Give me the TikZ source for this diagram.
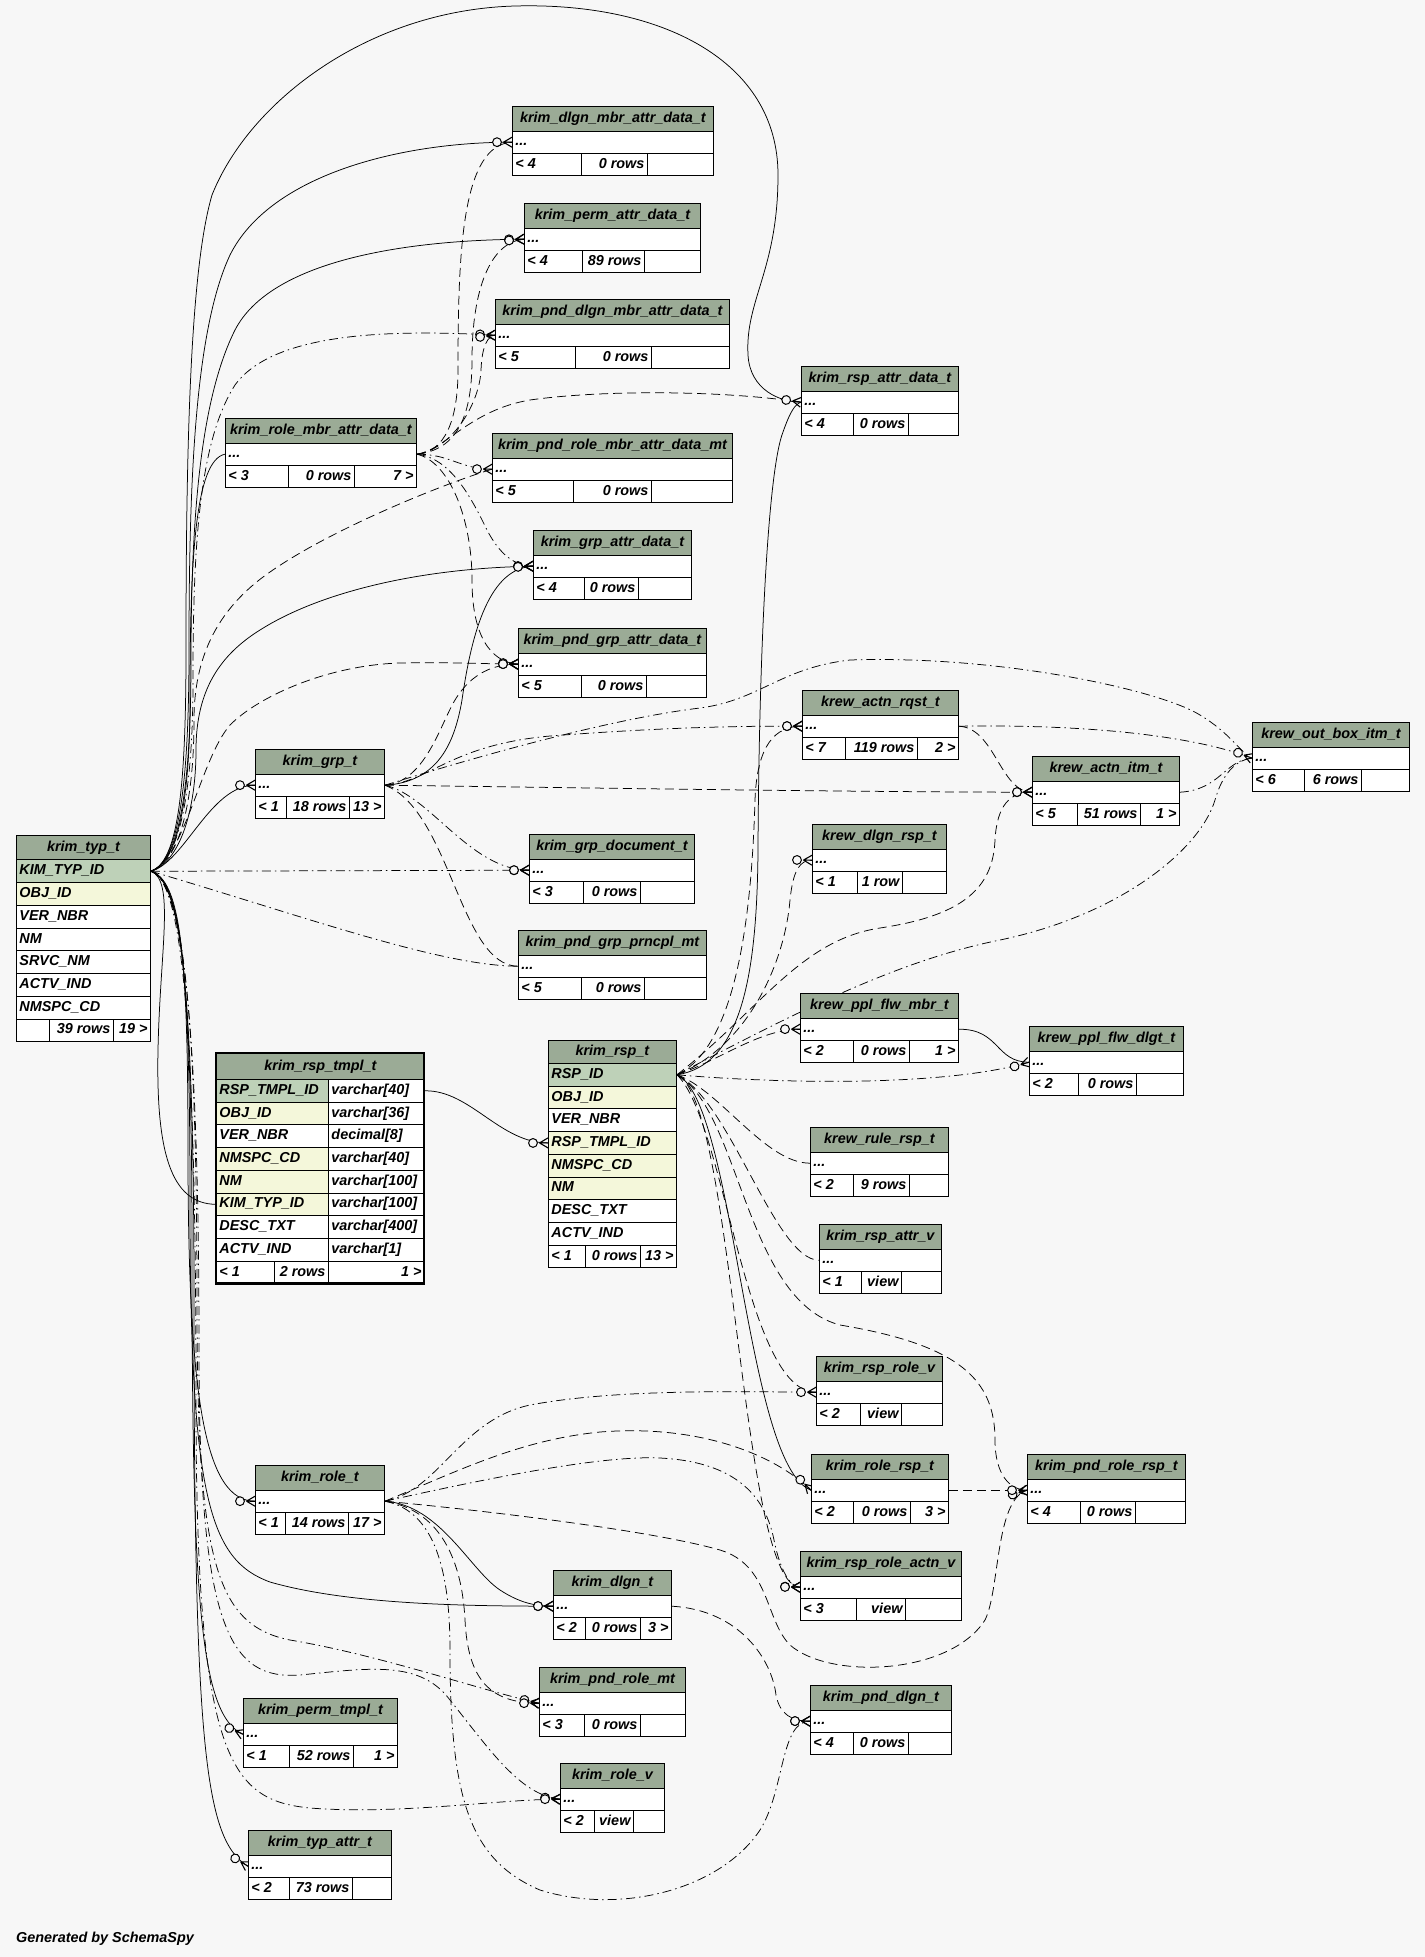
\documentclass[tikz,border=0pt]{standalone}
\usepackage{fontspec}
\setmainfont{Liberation Sans}
\usetikzlibrary{decorations.markings}
\definecolor{bgc}{HTML}{F7F7F7}
\definecolor{hdrc}{HTML}{9BAB96}
\definecolor{pkc}{HTML}{BED1B8}
\definecolor{idxc}{HTML}{F4F7DA}
\pgfdeclarelayer{bglayer}
\pgfdeclarelayer{edgelayer}
\pgfsetlayers{bglayer,edgelayer,main}
\newcommand\tabfont{\fontsize{14.4bp}{17bp}\selectfont\bfseries\itshape}
\tikzset{
  cellbase/.style={draw=black, line width=0.9bp, inner xsep=3bp, inner ysep=0pt,
    text height=10.6bp, text depth=3.4bp, font=\tabfont, anchor=north west},
  rel/.style={line width=0.75bp, postaction={decorate, decoration={markings,
    mark=at position 1 with {\draw[solid, line width=1bp, fill=bgc] (-15bp,0) circle (4.4bp);
      \draw[solid, line width=1.1bp] (-8.5bp,0) -- (0,5bp) (-8.5bp,0) -- (0,-5bp) (-8.5bp,0) -- (0,0);}}}},
  fkrel/.style={rel},
  imprel/.style={rel, dash pattern=on 9bp off 5bp},
  impdrel/.style={rel, dash pattern=on 9bp off 4bp on 1.5bp off 4bp},
}
% cell: name, x1, y1, x2, y2, fill, align (l/r/c), text
\newcommand\tcell[8]{%
  \pgfmathsetmacro\tcw{#4-(#2)}%
  \pgfmathsetmacro\tctw{#4-(#2)-6}%
  \pgfmathsetmacro\tch{#5-(#3)}%
  \node[cellbase, fill=#6, minimum width=\tcw bp, minimum height=\tch bp] (#1) at (#2,#3) {\makebox[\tctw bp][#7]{#8}};%
}
\newcommand\ctab[8]{%
  \pgfmathsetmacro\cya{#3+24.5}%
  \pgfmathsetmacro\cyb{#3+47}%
  \pgfmathsetmacro\cyc{#3+69}%
  \tcell{#1-h}{#2}{#3}{#4}{\cya}{hdrc}{c}{#5}%
  \tcell{#1}{#2}{\cya}{#4}{\cyb}{white}{l}{...}%
  \def\cxa{#2}\def\cxb{#6}\def\cxc{#7}\def\cxd{#4}%
  \ctabfoot{#1}#8%
}
\newcommand\ctabfoot[4]{%
  \tcell{#1-f1}{\cxa}{\cyb}{\cxb}{\cyc}{white}{l}{#2}%
  \tcell{#1-f2}{\cxb}{\cyb}{\cxc}{\cyc}{white}{r}{#3}%
  \tcell{#1-f3}{\cxc}{\cyb}{\cxd}{\cyc}{white}{r}{#4}%
}
\begin{document}
\begin{tikzpicture}[x=1bp,y=-1bp]
\useasboundingbox (0,0) rectangle (1425,1957);
\begin{pgfonlayer}{bglayer}
\fill[bgc] (0,0) rectangle (1425,1957);
\end{pgfonlayer}

% ---------- krim_typ_t ----------
\tcell{typ-h}{16}{835}{150}{859.3}{hdrc}{c}{krim\_typ\_t}
\tcell{typ-id}{16}{859.3}{150}{882.3}{pkc}{l}{KIM\_TYP\_ID}
\tcell{typ-obj}{16}{882.3}{150}{905}{idxc}{l}{OBJ\_ID}
\tcell{typ-ver}{16}{905}{150}{927.7}{white}{l}{VER\_NBR}
\tcell{typ-nm}{16}{927.7}{150}{950.4}{white}{l}{NM}
\tcell{typ-srvc}{16}{950.4}{150}{973.1}{white}{l}{SRVC\_NM}
\tcell{typ-actv}{16}{973.1}{150}{995.8}{white}{l}{ACTV\_IND}
\tcell{typ-nmspc}{16}{995.8}{150}{1018.5}{white}{l}{NMSPC\_CD}
\tcell{typ-f1}{16}{1018.5}{49}{1041.2}{white}{l}{}
\tcell{typ-f2}{49}{1018.5}{113}{1041.2}{white}{r}{39 rows}
\tcell{typ-f3}{113}{1018.5}{150}{1041.2}{white}{r}{19 >}

% ---------- krim_rsp_tmpl_t ----------
\tcell{rt-h}{216}{1053}{424}{1079}{hdrc}{c}{krim\_rsp\_tmpl\_t}
\tcell{rt-id}{216}{1079}{328}{1101.7}{pkc}{l}{RSP\_TMPL\_ID}
\tcell{rt-idt}{328}{1079}{424}{1101.7}{white}{l}{varchar[40]}
\tcell{rt-obj}{216}{1101.7}{328}{1124.4}{idxc}{l}{OBJ\_ID}
\tcell{rt-objt}{328}{1101.7}{424}{1124.4}{white}{l}{varchar[36]}
\tcell{rt-ver}{216}{1124.4}{328}{1147.1}{white}{l}{VER\_NBR}
\tcell{rt-vert}{328}{1124.4}{424}{1147.1}{white}{l}{decimal[8]}
\tcell{rt-nmspc}{216}{1147.1}{328}{1169.8}{idxc}{l}{NMSPC\_CD}
\tcell{rt-nmspct}{328}{1147.1}{424}{1169.8}{white}{l}{varchar[40]}
\tcell{rt-nm}{216}{1169.8}{328}{1192.5}{idxc}{l}{NM}
\tcell{rt-nmt}{328}{1169.8}{424}{1192.5}{white}{l}{varchar[100]}
\tcell{rt-kim}{216}{1192.5}{328}{1215.2}{idxc}{l}{KIM\_TYP\_ID}
\tcell{rt-kimt}{328}{1192.5}{424}{1215.2}{white}{l}{varchar[100]}
\tcell{rt-desc}{216}{1215.2}{328}{1237.9}{white}{l}{DESC\_TXT}
\tcell{rt-desct}{328}{1215.2}{424}{1237.9}{white}{l}{varchar[400]}
\tcell{rt-actv}{216}{1237.9}{328}{1260.6}{white}{l}{ACTV\_IND}
\tcell{rt-actvt}{328}{1237.9}{424}{1260.6}{white}{l}{varchar[1]}
\tcell{rt-f1}{216}{1260.6}{274}{1283.3}{white}{l}{< 1}
\tcell{rt-f2}{274}{1260.6}{328}{1283.3}{white}{r}{2 rows}
\tcell{rt-f3}{328}{1260.6}{424}{1283.3}{white}{r}{1 >}
\draw[line width=2.8bp] (216,1053) rectangle (424,1283.3);

% ---------- krim_rsp_t ----------
\tcell{rsp-h}{548}{1039.5}{676}{1063}{hdrc}{c}{krim\_rsp\_t}
\tcell{rsp-id}{548}{1063}{676}{1085.7}{pkc}{l}{RSP\_ID}
\tcell{rsp-obj}{548}{1085.7}{676}{1108.4}{idxc}{l}{OBJ\_ID}
\tcell{rsp-ver}{548}{1108.4}{676}{1131.1}{white}{l}{VER\_NBR}
\tcell{rsp-tmpl}{548}{1131.1}{676}{1153.8}{idxc}{l}{RSP\_TMPL\_ID}
\tcell{rsp-nmspc}{548}{1153.8}{676}{1176.5}{idxc}{l}{NMSPC\_CD}
\tcell{rsp-nm}{548}{1176.5}{676}{1199.2}{idxc}{l}{NM}
\tcell{rsp-desc}{548}{1199.2}{676}{1221.9}{white}{l}{DESC\_TXT}
\tcell{rsp-actv}{548}{1221.9}{676}{1244.6}{white}{l}{ACTV\_IND}
\tcell{rsp-f1}{548}{1244.6}{585}{1267.3}{white}{l}{< 1}
\tcell{rsp-f2}{585}{1244.6}{640}{1267.3}{white}{r}{0 rows}
\tcell{rsp-f3}{640}{1244.6}{676}{1267.3}{white}{r}{13 >}

% ---------- collapsed tables ----------
\ctab{dlgnmbr}{512}{106}{713}{krim\_dlgn\_mbr\_attr\_data\_t}{581}{647}{{< 4}{0 rows}{}}
\ctab{permattr}{524}{203}{700}{krim\_perm\_attr\_data\_t}{582}{644}{{< 4}{89 rows}{}}
\ctab{pnddlgnmbr}{495}{299}{729}{krim\_pnd\_dlgn\_mbr\_attr\_data\_t}{575}{651}{{< 5}{0 rows}{}}
\ctab{rspattrdata}{801}{366}{958}{krim\_rsp\_attr\_data\_t}{853}{908}{{< 4}{0 rows}{}}
\ctab{rmad}{225}{418}{416}{krim\_role\_mbr\_attr\_data\_t}{288}{354}{{< 3}{0 rows}{7 >}}
\ctab{pndrolembr}{492}{433}{732}{krim\_pnd\_role\_mbr\_attr\_data\_mt}{573}{651}{{< 5}{0 rows}{}}
\ctab{grpattr}{533}{530}{691}{krim\_grp\_attr\_data\_t}{584}{638}{{< 4}{0 rows}{}}
\ctab{pndgrpattr}{518}{628}{706}{krim\_pnd\_grp\_attr\_data\_t}{581}{646}{{< 5}{0 rows}{}}
\ctab{actnrqst}{802}{690}{958}{krew\_actn\_rqst\_t}{845}{917}{{< 7}{119 rows}{2 >}}
\ctab{outbox}{1252}{722}{1409}{krew\_out\_box\_itm\_t}{1304}{1361}{{< 6}{6 rows}{}}
\ctab{actnitm}{1032}{756}{1179}{krew\_actn\_itm\_t}{1077}{1140}{{< 5}{51 rows}{1 >}}
\ctab{grp}{255}{749}{384}{krim\_grp\_t}{286}{349}{{< 1}{18 rows}{13 >}}
\ctab{dlgnrsp}{812}{824}{946}{krew\_dlgn\_rsp\_t}{857}{902}{{< 1}{1 row}{}}
\ctab{grpdoc}{529}{834}{694}{krim\_grp\_document\_t}{583}{640}{{< 3}{0 rows}{}}
\ctab{pndgrpprncpl}{518}{930}{706}{krim\_pnd\_grp\_prncpl\_mt}{581}{644}{{< 5}{0 rows}{}}
\ctab{pplflwmbr}{800}{993}{958}{krew\_ppl\_flw\_mbr\_t}{853}{909}{{< 2}{0 rows}{1 >}}
\ctab{pplflwdlgt}{1029}{1026}{1183}{krew\_ppl\_flw\_dlgt\_t}{1078}{1136}{{< 2}{0 rows}{}}
\ctab{rulersp}{810}{1127}{948}{krew\_rule\_rsp\_t}{853}{909}{{< 2}{9 rows}{}}
\ctab{rspattrv}{819}{1224}{941}{krim\_rsp\_attr\_v}{861}{901}{{< 1}{view}{}}
\ctab{rsprolev}{816}{1356}{942}{krim\_rsp\_role\_v}{860}{901}{{< 2}{view}{}}
\ctab{rolersp}{811}{1454}{948}{krim\_role\_rsp\_t}{853}{910}{{< 2}{0 rows}{3 >}}
\ctab{pndrolersp}{1027}{1454}{1185}{krim\_pnd\_role\_rsp\_t}{1080}{1135}{{< 4}{0 rows}{}}
\ctab{role}{255}{1465}{384}{krim\_role\_t}{285}{348}{{< 1}{14 rows}{17 >}}
\ctab{rsproleactnv}{800}{1551}{961}{krim\_rsp\_role\_actn\_v}{856}{905}{{< 3}{view}{}}
\ctab{dlgn}{553}{1570}{671}{krim\_dlgn\_t}{585}{640}{{< 2}{0 rows}{3 >}}
\ctab{pndrolemt}{539}{1667}{685}{krim\_pnd\_role\_mt}{584}{640}{{< 3}{0 rows}{}}
\ctab{pnddlgn}{810}{1685}{951}{krim\_pnd\_dlgn\_t}{853}{908}{{< 4}{0 rows}{}}
\ctab{permtmpl}{243}{1698}{397}{krim\_perm\_tmpl\_t}{289}{353}{{< 1}{52 rows}{1 >}}
\ctab{rolev}{560}{1763}{664}{krim\_role\_v}{594}{633}{{< 2}{view}{}}
\ctab{typattr}{248}{1830}{391}{krim\_typ\_attr\_t}{289}{352}{{< 2}{73 rows}{}}

\node[font=\tabfont, anchor=base west, inner sep=0pt] (gen) at (16,1942) {Generated by SchemaSpy};

% ---------- connectors ----------
\begin{pgfonlayer}{edgelayer}
% from krim_typ_t
\draw[fkrel] (typ-id.east) .. controls (178,862) and (186,790) .. (186,650) .. controls (186,450) and (190,270) .. (212,195) .. controls (250,100) and (370,10) .. (515,6) .. controls (660,2) and (778,60) .. (778,175) .. controls (778,270) and (745,300) .. (748,355) .. controls (750,390) and (780,402) .. (rspattrdata.west);
\draw[fkrel] (typ-id.east) .. controls (178,862) and (189,790) .. (189,650) .. controls (189,480) and (195,330) .. (230,255) .. controls (270,175) and (400,142) .. (dlgnmbr.west);
\draw[fkrel] (typ-id.east) .. controls (178,862) and (191,795) .. (191,660) .. controls (191,520) and (200,400) .. (235,330) .. controls (270,262) and (400,240) .. (permattr.west);
\draw[impdrel] (typ-id.east) .. controls (178,862) and (193,800) .. (193,680) .. controls (193,540) and (200,440) .. (235,385) .. controls (275,330) and (400,330) .. (pnddlgnmbr.west);
\draw[fkrel] (typ-id.east) .. controls (178,862) and (190,800) .. (190,700) .. controls (190,560) and (195,460) .. (rmad.west);
\draw[imprel] (typ-id.east) .. controls (180,862) and (194,800) .. (194,720) .. controls (194,660) and (215,610) .. (270,572) .. controls (330,530) and (440,485) .. (pndrolembr.west);
\draw[fkrel] (typ-id.east) .. controls (180,862) and (196,810) .. (196,750) .. controls (196,690) and (220,655) .. (260,630) .. controls (320,592) and (420,568) .. (grpattr.west);
\draw[imprel] (typ-id.east) .. controls (185,858) and (200,760) .. (230,725) .. controls (260,695) and (330,665) .. (400,663) .. controls (450,662) and (490,664) .. (pndgrpattr.west);
\draw[fkrel] (typ-id.east) .. controls (185,862) and (210,785) .. (grp.west);
\draw[impdrel] (typ-id.east) -- (grpdoc.west);
\draw[impdrel] (typ-id.east) .. controls (300,915) and (440,966) .. (pndgrpprncpl.west);
\draw[fkrel] (typ-id.east) .. controls (175,880) and (160,950) .. (158,1050) .. controls (156,1150) and (170,1204) .. (rt-kim.west);
\draw[fkrel] (typ-id.east) .. controls (180,880) and (188,950) .. (188,1150) .. controls (188,1400) and (205,1501) .. (role.west);
\draw[fkrel] (typ-id.east) .. controls (180,880) and (190,960) .. (190,1200) .. controls (190,1500) and (210,1560) .. (270,1582) .. controls (350,1605) and (470,1606) .. (dlgn.west);
\draw[fkrel] (typ-id.east) .. controls (180,880) and (192,970) .. (192,1250) .. controls (192,1600) and (200,1715) .. (permtmpl.west);
\draw[fkrel] (typ-id.east) .. controls (180,880) and (194,980) .. (194,1300) .. controls (194,1750) and (205,1840) .. (typattr.west);
\draw[impdrel] (typ-id.east) .. controls (180,880) and (197,990) .. (197,1300) .. controls (197,1560) and (215,1625) .. (290,1640) .. controls (380,1655) and (480,1690) .. (pndrolemt.west);
\draw[impdrel] (typ-id.east) .. controls (180,880) and (199,1000) .. (199,1350) .. controls (199,1630) and (230,1680) .. (300,1675) .. controls (370,1668) and (420,1660) .. (450,1700) .. controls (490,1750) and (520,1795) .. (rolev.west);
\draw[impdrel] (typ-id.east) .. controls (180,880) and (196,1000) .. (196,1400) .. controls (196,1760) and (230,1800) .. (310,1808) .. controls (400,1815) and (500,1799) .. (rolev.west);
% from krim_role_mbr_attr_data_t
\draw[imprel] (rmad.east) .. controls (445,452) and (458,420) .. (458,370) .. controls (458,250) and (462,145) .. (dlgnmbr.west);
\draw[imprel] (rmad.east) .. controls (455,450) and (472,420) .. (472,360) .. controls (472,290) and (490,242) .. (permattr.west);
\draw[imprel] (rmad.east) .. controls (455,448) and (480,400) .. (481,370) .. controls (482,345) and (488,336) .. (pnddlgnmbr.west);
\draw[imprel] (rmad.east) .. controls (445,450) and (470,410) .. (530,400) .. controls (600,390) and (720,390) .. (rspattrdata.west);
\draw[impdrel] (rmad.east) .. controls (450,454) and (460,469) .. (pndrolembr.west);
\draw[impdrel] (rmad.east) .. controls (450,458) and (470,495) .. (487,530) .. controls (500,555) and (515,566) .. (grpattr.west);
\draw[imprel] (rmad.east) .. controls (450,462) and (472,520) .. (472,580) .. controls (472,635) and (490,662) .. (pndgrpattr.west);
% from krim_grp_t
\draw[fkrel] (grp.east) .. controls (440,782) and (455,740) .. (462,700) .. controls (472,630) and (490,568) .. (grpattr.west);
\draw[imprel] (grp.east) .. controls (425,782) and (440,725) .. (455,700) .. controls (472,672) and (495,664) .. (pndgrpattr.west);
\draw[impdrel] (grp.east) .. controls (430,795) and (470,870) .. (grpdoc.west);
\draw[imprel] (grp.east) .. controls (450,810) and (460,966) .. (pndgrpprncpl.west);
\draw[impdrel] (grp.east) .. controls (430,782) and (450,745) .. (550,736) .. controls (680,726) and (760,726) .. (actnrqst.west);
\draw[imprel] (grp.east) .. controls (600,788) and (850,792) .. (actnitm.west);
\draw[impdrel] (grp.east) .. controls (450,765) and (600,720) .. (700,708) .. controls (760,700) and (780,668) .. (850,660) .. controls (1000,655) and (1160,690) .. (1200,715) .. controls (1230,733) and (1240,752) .. (outbox.west);
% from krim_rsp_t
\draw[fkrel] (rsp-id.east) .. controls (740,1065) and (757,980) .. (758,850) .. controls (759,650) and (768,470) .. (783,432) .. controls (790,412) and (795,404) .. (rspattrdata.west);
\draw[imprel] (rsp-id.east) .. controls (740,1045) and (752,900) .. (755,800) .. controls (757,745) and (775,726) .. (actnrqst.west);
\draw[imprel] (rsp-id.east) .. controls (750,1045) and (785,960) .. (790,900) .. controls (793,870) and (800,860) .. (dlgnrsp.west);
\draw[imprel] (rsp-id.east) .. controls (760,1010) and (800,940) .. (880,928) .. controls (960,916) and (993,890) .. (995,840) .. controls (997,805) and (1010,792) .. (actnitm.west);
\draw[impdrel] (rsp-id.east) .. controls (800,1010) and (900,960) .. (1000,940) .. controls (1120,915) and (1200,850) .. (1215,800) .. controls (1222,775) and (1235,760) .. (outbox.west);
\draw[imprel] (rsp-id.east) .. controls (720,1060) and (760,1029) .. (pplflwmbr.west);
\draw[impdrel] (rsp-id.east) .. controls (800,1085) and (950,1085) .. (pplflwdlgt.west);
\draw[imprel] (rsp-id.east) .. controls (720,1090) and (765,1163) .. (rulersp.west);
\draw[imprel] (rsp-id.east) .. controls (730,1100) and (775,1260) .. (rspattrv.west);
\draw[imprel] (rsp-id.east) .. controls (725,1120) and (745,1392) .. (rsprolev.west);
\draw[fkrel] (rsp-id.east) .. controls (735,1100) and (745,1465) .. (rolersp.west);
\draw[imprel] (rsp-id.east) .. controls (740,1110) and (745,1300) .. (840,1325) .. controls (960,1345) and (995,1380) .. (995,1440) .. controls (995,1475) and (1010,1490) .. (pndrolersp.west);
\draw[imprel] (rsp-id.east) .. controls (735,1100) and (740,1585) .. (rsproleactnv.west);
% from krim_role_t
\draw[impdrel] (role.east) .. controls (440,1490) and (460,1420) .. (530,1405) .. controls (620,1388) and (750,1392) .. (rsprolev.west);
\draw[imprel] (role.east) .. controls (460,1470) and (520,1440) .. (600,1432) .. controls (700,1424) and (775,1455) .. (rolersp.west);
\draw[impdrel] (role.east) .. controls (480,1480) and (600,1455) .. (660,1458) .. controls (740,1462) and (766,1500) .. (774,1540) .. controls (780,1570) and (790,1587) .. (rsproleactnv.west);
\draw[imprel] (role.east) .. controls (480,1510) and (650,1530) .. (720,1550) .. controls (770,1565) and (765,1620) .. (790,1645) .. controls (830,1680) and (950,1675) .. (985,1620) .. controls (1000,1590) and (995,1500) .. (pndrolersp.west);
\draw[fkrel] (role.east) .. controls (440,1505) and (470,1570) .. (500,1590) .. controls (520,1603) and (535,1606) .. (dlgn.west);
\draw[imprel] (role.east) .. controls (440,1510) and (462,1560) .. (465,1620) .. controls (468,1680) and (490,1703) .. (pndrolemt.west);
\draw[impdrel] (role.east) .. controls (430,1510) and (450,1560) .. (450,1650) .. controls (450,1800) and (470,1860) .. (540,1890) .. controls (620,1915) and (720,1890) .. (760,1830) .. controls (785,1790) and (780,1721) .. (pnddlgn.west);
% others
\draw[fkrel] (rt-idt.east) .. controls (470,1090) and (500,1143) .. (rsp-tmpl.west);
\draw[fkrel] (pplflwmbr.east) .. controls (1000,1029) and (995,1062) .. (pplflwdlgt.west);
\draw[impdrel] (actnrqst.east) .. controls (1100,724) and (1200,738) .. (outbox.west);
\draw[imprel] (actnrqst.east) .. controls (995,728) and (1000,792) .. (actnitm.west);
\draw[impdrel] (actnitm.east) .. controls (1220,790) and (1225,760) .. (outbox.west);
\draw[imprel] (rolersp.east) -- (pndrolersp.west);
\draw[imprel] (dlgn.east) .. controls (740,1610) and (772,1660) .. (776,1695) .. controls (780,1715) and (792,1721) .. (pnddlgn.west);
\end{pgfonlayer}
\end{tikzpicture}
\end{document}
